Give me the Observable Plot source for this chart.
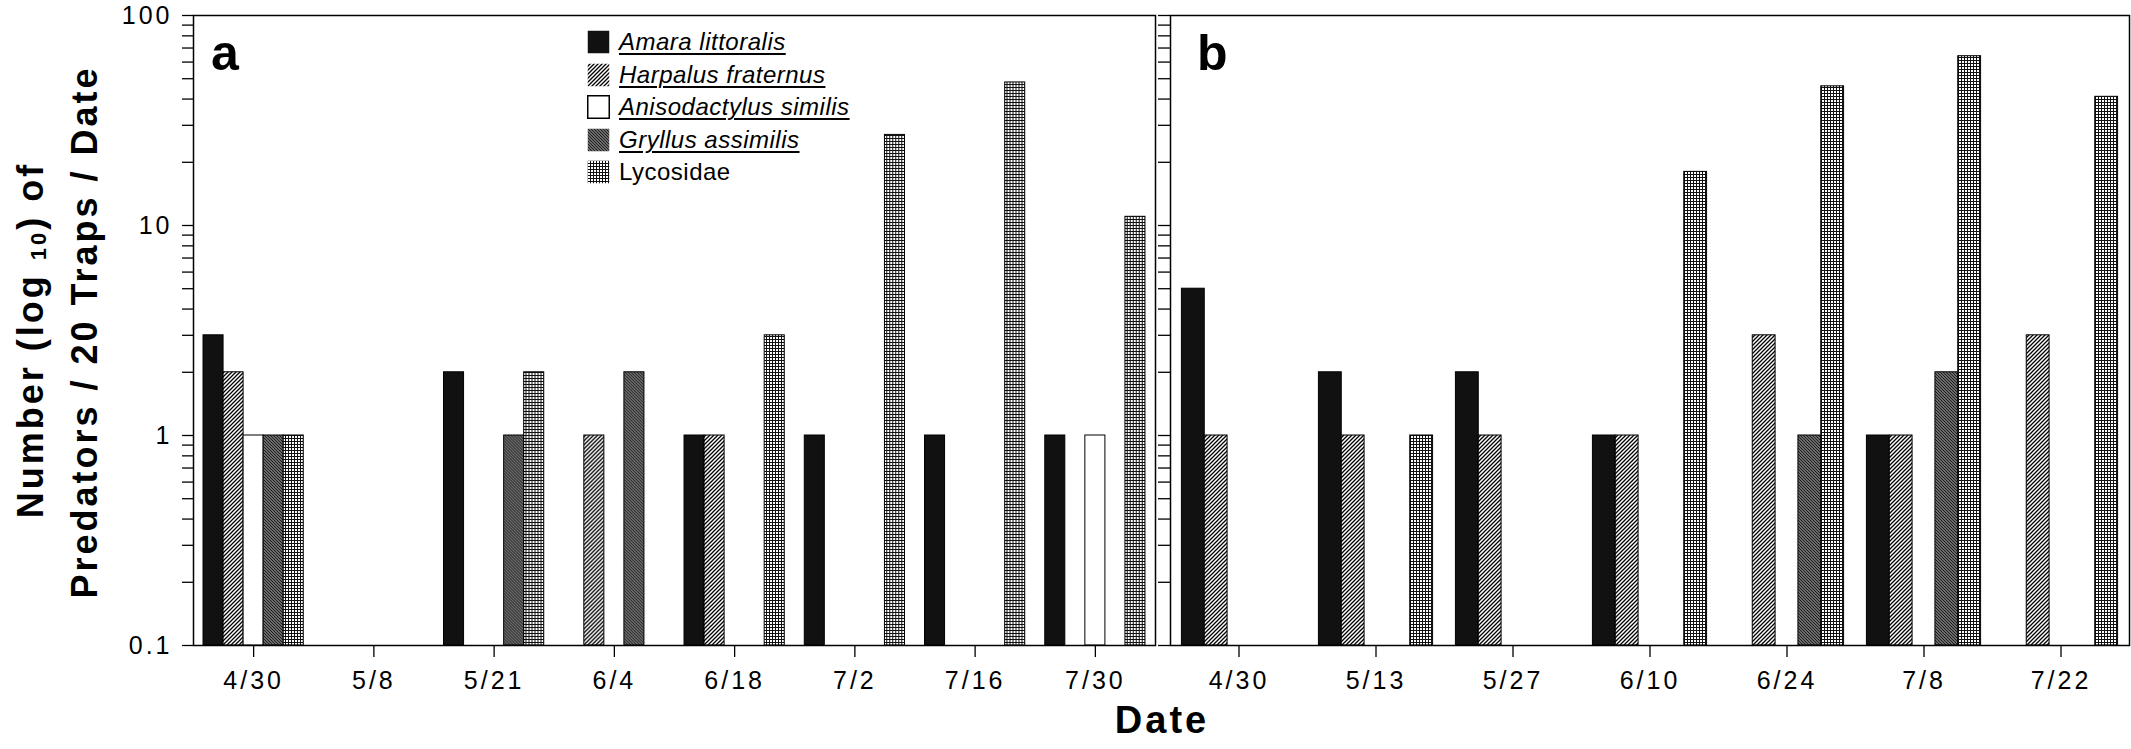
<!DOCTYPE html>
<html><head><meta charset="utf-8">
<script src="https://cdn.jsdelivr.net/npm/d3@7"></script>
<script src="https://cdn.jsdelivr.net/npm/@observablehq/plot@0.6"></script>
<style>
html,body{margin:0;padding:0;background:#fff;}
#wrap{position:relative;width:2131px;height:749px;overflow:hidden;font-family:"Liberation Sans",Arial,sans-serif;color:#000;}
.abs{position:absolute;top:0;}
#legend{position:absolute;left:587px;top:26px;}
#legend .row{display:flex;align-items:center;height:32.5px;}
#legend svg{margin-right:9px;flex:none;}
#legend span{font-size:24px;letter-spacing:0.5px;}
#legend span.sp{font-style:italic;text-decoration:underline;text-decoration-thickness:1.5px;text-underline-offset:3px;}
</style></head><body>
<div id="wrap">
<svg width="0" height="0" style="position:absolute">
  <defs>
    <pattern id="pat-harpalus" patternUnits="userSpaceOnUse" width="4" height="4">
      <rect width="4" height="4" fill="white"/>
      <path d="M-1,1 l2,-2 M0,4 l4,-4 M3,5 l2,-2" stroke="black" stroke-width="1.3"/>
    </pattern>
    <pattern id="pat-gryllus" patternUnits="userSpaceOnUse" width="3" height="3">
      <rect width="3" height="3" fill="#8a8a8a"/>
      <path d="M-1,2 l2,2 M0,0 l3,3 M2,-1 l2,2" stroke="#1a1a1a" stroke-width="1.1"/>
    </pattern>
    <pattern id="pat-lycosidae" patternUnits="userSpaceOnUse" width="3" height="3">
      <rect width="3" height="3" fill="#111"/>
      <rect x="1" y="1" width="2" height="2" fill="white"/>
    </pattern>
  </defs>
</svg>
<div id="pa" class="abs" style="left:0"></div>
<div id="pb" class="abs" style="left:1150px"></div>
<svg id="overlay" class="abs" width="2131" height="749" style="left:0;pointer-events:none;font-family:'Liberation Sans',Arial,sans-serif;font-weight:bold;">
  <text x="211" y="70" font-size="50">a</text>
  <text x="1197" y="70" font-size="50">b</text>
  <text x="1162" y="733" font-size="38" text-anchor="middle" style="letter-spacing:3px">Date</text>
  <text transform="translate(43,340) rotate(-90)" font-size="36" text-anchor="middle" style="letter-spacing:3px">Number (log <tspan font-size="22" dy="3">10</tspan><tspan dy="-3">) of</tspan></text>
  <text transform="translate(97,332) rotate(-90)" font-size="36" text-anchor="middle" style="letter-spacing:3px">Predators / 20 Traps / Date</text>
</svg>
<div id="legend"></div>
</div>
<script>
// ---- data ----
const species = ["Amara littoralis", "Harpalus fraternus", "Anisodactylus similis", "Gryllus assimilis", "Lycosidae"];
const speciesFill = ["#111", "url(#pat-harpalus)", "white", "url(#pat-gryllus)", "url(#pat-lycosidae)"];

const datesA = ["4/30", "5/8", "5/21", "6/4", "6/18", "7/2", "7/16", "7/30"];
const amaraA    = [3, 0, 2, 0, 1, 1, 1, 1];
const harpalusA = [2, 0, 0, 1, 1, 0, 0, 0];
const anisoA    = [1, 0, 0, 0, 0, 0, 0, 1];
const gryllusA  = [1, 0, 1, 2, 0, 0, 0, 0];
const lycosaA   = [1, 0, 2, 0, 3, 27, 48, 11];

const datesB = ["4/30", "5/13", "5/27", "6/10", "6/24", "7/8", "7/22"];
const amaraB    = [5, 2, 2, 1, 0, 1, 0];
const harpalusB = [1, 1, 1, 1, 3, 1, 3];
const anisoB    = [0, 0, 0, 0, 0, 0, 0];
const gryllusB  = [0, 0, 0, 0, 1, 2, 0];
const lycosaB   = [0, 1, 0, 18, 46, 64, 41];

const yTicks = [0.1,0.2,0.3,0.4,0.5,0.6,0.7,0.8,0.9,1,2,3,4,5,6,7,8,9,10,20,30,40,50,60,70,80,90,100];
const yLabelValues = [0.1, 1, 10, 100];
const yLabelTexts = ["0.1", "1", "10", "100"];

// ---- build ----
function rowsFor(dates, series) {
  const rows = [];
  dates.forEach((date, i) => series.forEach((vals, j) => {
    if (vals[i] > 0) rows.push({date, species: species[j], value: vals[i]});
  }));
  return rows;
}

function panel({dates, series, width, marginLeft, marginRight, labels}) {
  const fmt = labels ? (d => { const k = yLabelValues.indexOf(d); return k >= 0 ? yLabelTexts[k] : ""; }) : (() => "");
  return Plot.plot({
    width, height: 749, marginTop: 15, marginBottom: 104, marginLeft, marginRight,
    style: {background: "transparent", fontFamily: '"Liberation Sans", Arial, sans-serif', letterSpacing: "3px", color: "black", overflow: "visible"},
    fx: {domain: dates, paddingInner: 0, paddingOuter: 0, round: false, label: null},
    x: {domain: species, paddingInner: 0, paddingOuter: 0.5, round: false, axis: null},
    y: {type: "log", domain: [0.1, 100], label: null},
    color: {domain: species, range: speciesFill},
    marks: [
      Plot.barY(rowsFor(dates, series), {fx: "date", x: "species", y1: 0.1, y2: "value", fill: "species", stroke: "black", strokeWidth: 1}),
      Plot.frame({facet: "super", stroke: "black", strokeWidth: 1.5}),
      Plot.axisY({ticks: yTicks, facetAnchor: "left", tickSize: labels ? 11 : 12, tickPadding: 10, tickFormat: fmt, fontSize: 25, strokeWidth: 1.3, label: null}),
      Plot.axisFx({anchor: "bottom", tickSize: 12, tickPadding: 14, fontSize: 25, strokeWidth: 1.3, label: null})
    ]
  });
}

document.getElementById("pa").appendChild(panel({
  dates: datesA, series: [amaraA, harpalusA, anisoA, gryllusA, lycosaA],
  width: 1160, marginLeft: 193, marginRight: 5, labels: true
}));
document.getElementById("pb").appendChild(panel({
  dates: datesB, series: [amaraB, harpalusB, anisoB, gryllusB, lycosaB],
  width: 981, marginLeft: 20, marginRight: 2, labels: false
}));

// ---- legend ----
const legend = document.getElementById("legend");
species.forEach((s, i) => {
  const row = document.createElement("div");
  row.className = "row";
  const border = speciesFill[i] === "white" ? ' stroke="black" stroke-width="1.5"' : '';
  row.innerHTML = `<svg width="23" height="24"><rect x="0.75" y="0.75" width="21.5" height="22.5" fill="${speciesFill[i]}"${border}/></svg><span class="${i < 4 ? "sp" : ""}">${s}</span>`;
  legend.appendChild(row);
});
</script>
</body></html>
